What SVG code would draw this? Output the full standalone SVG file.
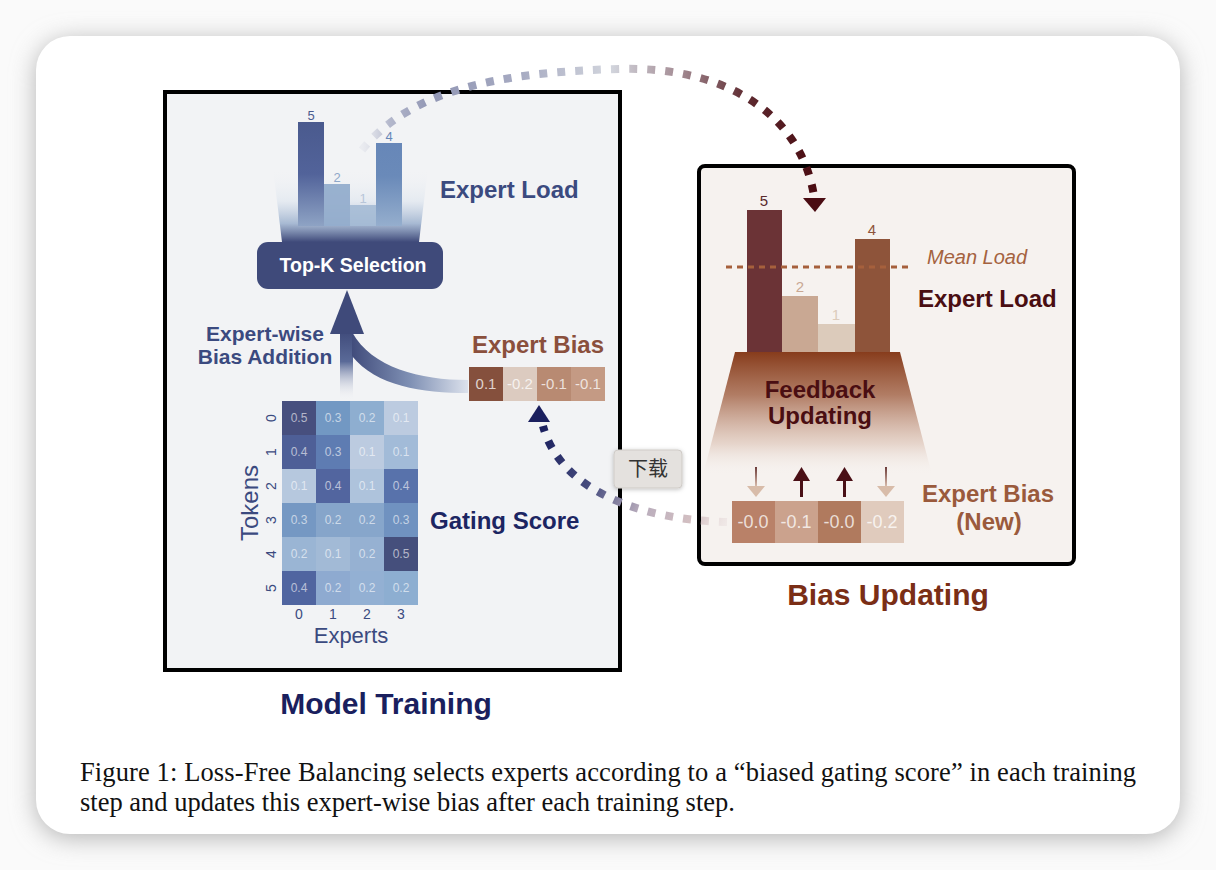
<svg xmlns="http://www.w3.org/2000/svg" width="1216" height="870" viewBox="0 0 1216 870">
<defs>
<style>
.sans{font-family:"Liberation Sans",Arial,sans-serif}
.b{font-weight:bold}
.navy{fill:#3b4a7f}
.cell{font-family:"Liberation Sans",Arial,sans-serif;font-size:12px;fill:#ffffff;fill-opacity:0.6;text-anchor:middle}
.bcell{font-family:"Liberation Sans",Arial,sans-serif;font-size:15px;fill:#ffffff;fill-opacity:0.75;text-anchor:middle}
.rcell{font-family:"Liberation Sans",Arial,sans-serif;font-size:18px;fill:#ffffff;fill-opacity:0.75;text-anchor:middle}
.tick{font-family:"Liberation Sans",Arial,sans-serif;font-size:14px;fill:#3b4a7f;text-anchor:middle}
.dots{fill:none;stroke-width:8;stroke-dasharray:8 10}
.cap{font-family:"Liberation Serif","Times New Roman",serif;font-size:26.5px;fill:#111}
</style>
<filter id="cardShadow" x="-10%" y="-10%" width="120%" height="120%">
<feGaussianBlur stdDeviation="12"/>
</filter>
<filter id="tipShadow" x="-30%" y="-30%" width="160%" height="160%">
<feDropShadow dx="0" dy="1" stdDeviation="2" flood-color="#000" flood-opacity="0.25"/>
</filter>
<linearGradient id="fogL" x1="0" y1="168" x2="0" y2="242" gradientUnits="userSpaceOnUse">
<stop offset="0" stop-color="#f2f3f5" stop-opacity="0"/>
<stop offset="0.45" stop-color="#dfe6ef" stop-opacity="0.7"/>
<stop offset="0.75" stop-color="#9fb3cf" stop-opacity="0.9"/>
<stop offset="1" stop-color="#3f4a7a"/>
</linearGradient>
<linearGradient id="bar5" x1="0" y1="0" x2="0" y2="1">
<stop offset="0" stop-color="#4a5a8e"/>
<stop offset="0.5" stop-color="#52639a"/>
<stop offset="1" stop-color="#8ea3c4"/>
</linearGradient>
<linearGradient id="bar4" x1="0" y1="0" x2="0" y2="1">
<stop offset="0" stop-color="#6787b8"/>
<stop offset="0.4" stop-color="#6a8ab9"/>
<stop offset="1" stop-color="#95aecd"/>
</linearGradient>
<linearGradient id="shaft" x1="0" y1="330" x2="0" y2="400" gradientUnits="userSpaceOnUse">
<stop offset="0" stop-color="#3f4a7a"/>
<stop offset="0.45" stop-color="#5a6a98"/>
<stop offset="1" stop-color="#f2f3f5" stop-opacity="0"/>
</linearGradient>
<linearGradient id="band" x1="350" y1="0" x2="470" y2="0" gradientUnits="userSpaceOnUse">
<stop offset="0" stop-color="#3f4a7a"/>
<stop offset="0.5" stop-color="#7f90b4"/>
<stop offset="1" stop-color="#dfe4ee"/>
</linearGradient>
<linearGradient id="trapR" x1="0" y1="352" x2="0" y2="475" gradientUnits="userSpaceOnUse">
<stop offset="0" stop-color="#873c1c"/>
<stop offset="0.35" stop-color="#a5684c" stop-opacity="0.85"/>
<stop offset="0.75" stop-color="#dcc2b4" stop-opacity="0.6"/>
<stop offset="1" stop-color="#f6f2ef" stop-opacity="0"/>
</linearGradient>
<linearGradient id="topArc" x1="362" y1="0" x2="815" y2="0" gradientUnits="userSpaceOnUse">
<stop offset="0" stop-color="#d8dae4" stop-opacity="0.3"/>
<stop offset="0.06" stop-color="#b4b8cc"/>
<stop offset="0.15" stop-color="#9196b4"/>
<stop offset="0.35" stop-color="#a7abc2"/>
<stop offset="0.55" stop-color="#d2d5dd"/>
<stop offset="0.7" stop-color="#a48c94"/>
<stop offset="0.85" stop-color="#5e2a30"/>
<stop offset="1" stop-color="#4a0c12"/>
</linearGradient>
<linearGradient id="botArc" x1="540" y1="430" x2="727" y2="522" gradientUnits="userSpaceOnUse">
<stop offset="0" stop-color="#1a1f5e"/>
<stop offset="0.35" stop-color="#4a4f80"/>
<stop offset="0.6" stop-color="#b8acbc"/>
<stop offset="0.85" stop-color="#d4c0c2"/>
<stop offset="1" stop-color="#e6dada" stop-opacity="0.4"/>
</linearGradient>
<linearGradient id="downShaft" x1="0" y1="0" x2="0" y2="1">
<stop offset="0" stop-color="#6a3a38"/>
<stop offset="1" stop-color="#dcc0b0"/>
</linearGradient>
</defs>

<rect width="1216" height="870" fill="#fafafa"/>
<rect x="36" y="40" width="1144" height="798" rx="34" fill="#b4b4b4" filter="url(#cardShadow)"/>
<rect x="36" y="36" width="1144" height="798" rx="34" fill="#ffffff"/>

<g id="model-training-panel">
<rect x="165" y="92" width="455" height="578" fill="#f2f3f5" stroke="#000" stroke-width="4"/>
</g>

<g id="bias-updating-panel">
<rect x="699" y="166" width="375" height="398" rx="6" fill="#f6f2ef" stroke="#000" stroke-width="4"/>
</g>

<g id="expert-load-left">
<polygon points="273,168 428,168 419,242 282,242" fill="url(#fogL)"/>
<rect x="298" y="122" width="26" height="104" fill="url(#bar5)"/>
<rect x="324" y="184" width="26" height="42" fill="#93adcc" fill-opacity="0.95"/>
<rect x="350" y="205" width="26" height="21" fill="#a5bbd5" fill-opacity="0.9"/>
<rect x="376" y="143" width="26" height="83" fill="url(#bar4)"/>
<text x="311" y="120" class="sans" font-size="13" fill="#4a5a8e" text-anchor="middle">5</text>
<text x="337" y="182" class="sans" font-size="13" fill="#8fa8c9" text-anchor="middle">2</text>
<text x="363" y="203" class="sans" font-size="13" fill="#b8c6d9" text-anchor="middle">1</text>
<text x="389" y="141" class="sans" font-size="13" fill="#6787b8" text-anchor="middle">4</text>
<text x="440" y="198" class="sans b navy" font-size="24">Expert Load</text>
</g>

<g id="topk-selection">
<rect x="257" y="242" width="186" height="47" rx="11" fill="#3f4a7a"/>
<text x="353" y="272" class="sans b" font-size="19.5" fill="#ffffff" text-anchor="middle">Top-K Selection</text>
</g>

<g id="bias-addition-arrow">
<rect x="340" y="330" width="13" height="70" fill="url(#shaft)"/>
<path d="M 468 380 C 420 380 372 368 352 332 L 352 356 C 376 386 422 393 468 393 Z" fill="url(#band)"/>
<polygon points="347,290 330,334 364,334" fill="#3f4a7a"/>
<text x="265" y="341" class="sans b navy" font-size="21" text-anchor="middle">Expert-wise</text>
<text x="265" y="364" class="sans b navy" font-size="21" text-anchor="middle">Bias Addition</text>
</g>

<g id="gating-score-heatmap">
<rect x="282" y="401" width="34" height="34" fill="#474f7e"/>
<rect x="316" y="401" width="34" height="34" fill="#7298c3"/>
<rect x="350" y="401" width="34" height="34" fill="#8eaed0"/>
<rect x="384" y="401" width="34" height="34" fill="#bccbe0"/>
<rect x="282" y="435" width="34" height="34" fill="#4e5f97"/>
<rect x="316" y="435" width="34" height="34" fill="#5e7cb2"/>
<rect x="350" y="435" width="34" height="34" fill="#bccbe0"/>
<rect x="384" y="435" width="34" height="34" fill="#a2bbd8"/>
<rect x="282" y="469" width="34" height="34" fill="#b6c8de"/>
<rect x="316" y="469" width="34" height="34" fill="#52659f"/>
<rect x="350" y="469" width="34" height="34" fill="#aec3dc"/>
<rect x="384" y="469" width="34" height="34" fill="#5872ab"/>
<rect x="282" y="503" width="34" height="34" fill="#7598c3"/>
<rect x="316" y="503" width="34" height="34" fill="#86a5ca"/>
<rect x="350" y="503" width="34" height="34" fill="#87a6cb"/>
<rect x="384" y="503" width="34" height="34" fill="#7092c0"/>
<rect x="282" y="537" width="34" height="34" fill="#9ab5d4"/>
<rect x="316" y="537" width="34" height="34" fill="#a2bad6"/>
<rect x="350" y="537" width="34" height="34" fill="#96b1d2"/>
<rect x="384" y="537" width="34" height="34" fill="#454f7c"/>
<rect x="282" y="571" width="34" height="34" fill="#5065a0"/>
<rect x="316" y="571" width="34" height="34" fill="#8eaad0"/>
<rect x="350" y="571" width="34" height="34" fill="#93b0d3"/>
<rect x="384" y="571" width="34" height="34" fill="#8daed1"/>
<text x="299" y="422" class="cell">0.5</text><text x="333" y="422" class="cell">0.3</text><text x="367" y="422" class="cell">0.2</text><text x="401" y="422" class="cell">0.1</text>
<text x="299" y="456" class="cell">0.4</text><text x="333" y="456" class="cell">0.3</text><text x="367" y="456" class="cell">0.1</text><text x="401" y="456" class="cell">0.1</text>
<text x="299" y="490" class="cell">0.1</text><text x="333" y="490" class="cell">0.4</text><text x="367" y="490" class="cell">0.1</text><text x="401" y="490" class="cell">0.4</text>
<text x="299" y="524" class="cell">0.3</text><text x="333" y="524" class="cell">0.2</text><text x="367" y="524" class="cell">0.2</text><text x="401" y="524" class="cell">0.3</text>
<text x="299" y="558" class="cell">0.2</text><text x="333" y="558" class="cell">0.1</text><text x="367" y="558" class="cell">0.2</text><text x="401" y="558" class="cell">0.5</text>
<text x="299" y="592" class="cell">0.4</text><text x="333" y="592" class="cell">0.2</text><text x="367" y="592" class="cell">0.2</text><text x="401" y="592" class="cell">0.2</text>
<text class="tick" transform="translate(276,418) rotate(-90)">0</text>
<text class="tick" transform="translate(276,452) rotate(-90)">1</text>
<text class="tick" transform="translate(276,486) rotate(-90)">2</text>
<text class="tick" transform="translate(276,520) rotate(-90)">3</text>
<text class="tick" transform="translate(276,554) rotate(-90)">4</text>
<text class="tick" transform="translate(276,588) rotate(-90)">5</text>
<text x="299" y="619" class="tick">0</text>
<text x="333" y="619" class="tick">1</text>
<text x="367" y="619" class="tick">2</text>
<text x="401" y="619" class="tick">3</text>
<text class="sans navy" font-size="24" text-anchor="middle" transform="translate(258,503) rotate(-90)">Tokens</text>
<text x="351" y="643" class="sans navy" font-size="22" text-anchor="middle">Experts</text>
<text x="430" y="529" class="sans b" font-size="24" fill="#1c2562">Gating Score</text>
</g>

<g id="expert-bias-left">
<text x="472" y="353" class="sans b" font-size="24" fill="#8a4f3c">Expert Bias</text>
<rect x="469" y="367" width="34" height="34" fill="#85503d"/>
<rect x="503" y="367" width="34" height="34" fill="#dccbc0"/>
<rect x="537" y="367" width="34" height="34" fill="#b88a72"/>
<rect x="571" y="367" width="34" height="34" fill="#c49a84"/>
<text x="486" y="389" class="bcell">0.1</text>
<text x="520" y="389" class="bcell">-0.2</text>
<text x="554" y="389" class="bcell">-0.1</text>
<text x="588" y="389" class="bcell">-0.1</text>
</g>

<g id="expert-load-right">
<polygon points="735,352 900,352 932,475 703,475" fill="url(#trapR)"/>
<rect x="747" y="210" width="35" height="142" fill="#6b3336"/>
<rect x="782" y="296" width="36" height="56" fill="#c9a893"/>
<rect x="818" y="324" width="37" height="28" fill="#dccbbb"/>
<rect x="855" y="239" width="35" height="113" fill="#8e543a"/>
<text x="764" y="206" class="sans" font-size="15" fill="#5a2a2c" text-anchor="middle">5</text>
<text x="800" y="292" class="sans" font-size="15" fill="#c9a893" text-anchor="middle">2</text>
<text x="836" y="320" class="sans" font-size="15" fill="#dccbbb" text-anchor="middle">1</text>
<text x="872" y="235" class="sans" font-size="15" fill="#8e543a" text-anchor="middle">4</text>
<line x1="726" y1="267" x2="910" y2="267" stroke="#a6603c" stroke-width="3" stroke-dasharray="6 5"/>
<text x="927" y="264" class="sans" font-size="20" font-style="italic" fill="#a4623f">Mean Load</text>
<text x="918" y="307" class="sans b" font-size="24" fill="#4a0e12">Expert Load</text>
<text x="820" y="398" class="sans b" font-size="24" fill="#4a0e12" text-anchor="middle">Feedback</text>
<text x="820" y="424" class="sans b" font-size="24" fill="#4a0e12" text-anchor="middle">Updating</text>
</g>

<g id="expert-bias-new">
<rect x="732" y="501" width="43" height="42" fill="#b98168"/>
<rect x="775" y="501" width="43" height="42" fill="#cba28d"/>
<rect x="818" y="501" width="43" height="42" fill="#b07a5e"/>
<rect x="861" y="501" width="43" height="42" fill="#e0cbbd"/>
<text x="753" y="528" class="rcell">-0.0</text>
<text x="796" y="528" class="rcell">-0.1</text>
<text x="839" y="528" class="rcell">-0.0</text>
<text x="882" y="528" class="rcell">-0.2</text>
<rect x="755" y="467" width="2" height="20" fill="url(#downShaft)"/>
<polygon points="747,486 765,486 756,497" fill="#d8bca9"/>
<rect x="800" y="479" width="3" height="18" fill="#4a1016"/>
<polygon points="801.5,467 793,481 810,481" fill="#4a1016"/>
<rect x="843" y="479" width="3" height="18" fill="#4a1016"/>
<polygon points="844.5,467 836,481 853,481" fill="#4a1016"/>
<rect x="885" y="467" width="2" height="20" fill="url(#downShaft)"/>
<polygon points="877,486 895,486 886,497" fill="#d8bca9"/>
<text x="922" y="502" class="sans b" font-size="24" fill="#9a5a3c">Expert Bias</text>
<text x="989" y="530" class="sans b" font-size="24" fill="#9a5a3c" text-anchor="middle">(New)</text>
</g>

<g id="connectors">
<path class="dots" d="M 362 150 C 410 90 500 72 620 69 C 720 66 800 110 814 196" stroke="url(#topArc)"/>
<polygon points="803,198 826,198 815,212" fill="#4a0c12"/>
<path class="dots" d="M 727 522 C 640 520 560 490 543 426" stroke="url(#botArc)"/>
<polygon points="539,405 528,422 550,422" fill="#1a1f5e"/>
</g>

<g id="titles">
<text x="386" y="714" class="sans b" font-size="30" fill="#1a1f5e" text-anchor="middle">Model Training</text>
<text x="888" y="605" class="sans b" font-size="30" fill="#7a2e16" text-anchor="middle">Bias Updating</text>
</g>

<g id="caption">
<text x="80" y="781" class="cap" textLength="1056" lengthAdjust="spacing">Figure 1: Loss-Free Balancing selects experts according to a “biased gating score” in each training</text>
<text x="80" y="811" class="cap">step and updates this expert-wise bias after each training step.</text>
</g>

<g id="tooltip">
<rect x="614" y="450" width="68" height="38" rx="4" fill="#e4e1de" stroke="#cfcbc7" stroke-width="1" filter="url(#tipShadow)"/>
<text x="648" y="476" font-family="'Noto Sans CJK SC',sans-serif" font-size="20" fill="#333" text-anchor="middle">下载</text>
</g>
</svg>
